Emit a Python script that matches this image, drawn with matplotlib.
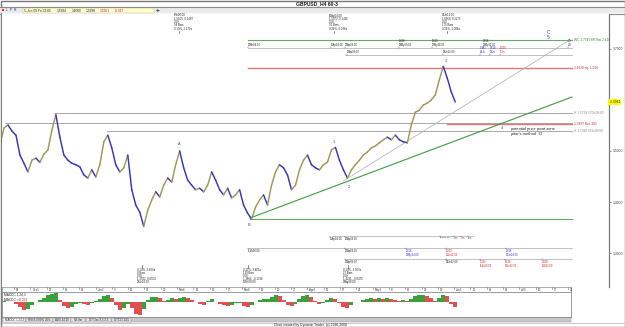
import matplotlib
matplotlib.use("Agg")
import matplotlib.pyplot as plt
from matplotlib.collections import LineCollection
from matplotlib.patches import Rectangle

plt.rcParams['font.family'] = ['Liberation Sans', 'DejaVu Sans']

# ---------------- data ----------------
week_labels = ["28", "Dec5", "12", "19", "26", "Jan2", "9", "16", "23", "30",
               "Feb6", "13", "20", "27", "Mar6", "13", "20", "27", "Apr3", "10",
               "17", "24", "May1", "8", "15", "22", "29", "Jun5", "12", "19",
               "26", "Jul3", "10", "17", "24"]

close_start_week = -0.86
close_step_weeks = 0.245
close = [1.512, 1.545, 1.551, 1.539, 1.531, 1.492, 1.476, 1.459, 1.482, 1.486,
         1.478, 1.494, 1.502, 1.541, 1.571, 1.527, 1.492, 1.482, 1.476, 1.473,
         1.469, 1.453, 1.447, 1.463, 1.449, 1.473, 1.518, 1.531, 1.506, 1.473,
         1.459, 1.467, 1.492, 1.424, 1.394, 1.380, 1.352, 1.384, 1.404, 1.420,
         1.410, 1.433, 1.447, 1.439, 1.473, 1.500, 1.467, 1.443, 1.433, 1.424,
         1.427, 1.420, 1.433, 1.459, 1.443, 1.424, 1.414, 1.427, 1.408, 1.414,
         1.424, 1.394, 1.378, 1.367, 1.390, 1.404, 1.414, 1.394, 1.433, 1.459,
         1.473, 1.467, 1.453, 1.424, 1.433, 1.463, 1.482, 1.492, 1.473, 1.467,
         1.463, 1.473, 1.478, 1.502, 1.507, 1.482, 1.463, 1.447, 1.463, 1.473,
         1.482, 1.492, 1.498, 1.506, 1.510, 1.516, 1.522, 1.527, 1.522, 1.531,
         1.522, 1.518, 1.516, 1.551, 1.576, 1.580, 1.590, 1.594, 1.600, 1.610,
         1.639, 1.666, 1.643, 1.616, 1.5961]

macd_hist = [0.002, 0.005, 0.002, -0.002, -0.009, -0.023, -0.037, -0.032, -0.014, 0.002,
             0.009, 0.018, 0.032, 0.037, 0.041, 0.009, -0.018, -0.028, -0.023, -0.009,
             -0.005, -0.009, -0.014, -0.005, 0.005, 0.014, 0.028, 0.032, 0.018, -0.014,
             -0.037, -0.028, -0.009, -0.028, -0.055, -0.060, -0.032, 0.009, 0.023, 0.023,
             0.018, 0.005, 0.009, 0.018, 0.014, 0.018, 0.023, 0.018, 0.009, 0.000,
             -0.009, -0.014, 0.005, 0.014, 0.000, -0.009, -0.014, -0.018, -0.014, -0.005,
             -0.005, -0.018, -0.023, -0.014, 0.000, 0.009, 0.014, 0.014, 0.023, 0.032,
             0.028, 0.009, -0.014, -0.018, -0.009, 0.014, 0.028, 0.032, 0.023, 0.005,
             -0.009, -0.005, 0.009, 0.018, 0.014, -0.005, -0.023, -0.028, -0.014, 0.000,
             0.002, 0.009, 0.014, 0.018, 0.014, 0.018, 0.014, 0.018, 0.014, 0.009,
             0.005, 0.007, 0.005, 0.014, 0.028, 0.032, 0.032, 0.028, 0.018, 0.005,
             0.018, 0.032, 0.028, -0.009, -0.023]

axis_ticks = [1.3, 1.4, 1.5, 1.7]
last_close = 1.5961

# support / resistance levels
level_prices = [1.5745, 1.5550, 1.5390, 1.6627, 1.5529, 1.7176, 1.3667]
level_starts = [2.45, -0.55, 5.70, 14.36, 26.56, 14.36, 14.48]
level_labels = ["H 1.5729 17Dc08:00", "", "H 1.5392 03Jn08:00", "1.6620 eq. 1.000",
                "1.5497 Ret .382", "WC 1.7549 ER Rat 2.618", ""]
level_kinds = ["gray", "gray", "gray", "red", "red", "green", "green"]

trend_green = ([14.48, 34.23], [1.3686, 1.6059])
trend_gray = ([20.20, 34.10], [1.4412, 1.7176])

wave_labels = ["A", "B", "1", "2", "3", "4", "C", "5"]
wave_weeks = [10.12, 14.42, 19.63, 20.55, 26.50, 29.94, 32.76, 32.76]
wave_prices = [1.5137, 1.3549, 1.5176, 1.4294, 1.6765, 1.5451, 1.7333, 1.7235]

# ---------------- layout helpers ----------------
W, H = 625, 327
PX_PER_WEEK = 16.3
WEEK0_PX = 14.0


def rect(x0, y0, x1, y1):
    return [x0 / W, 1 - y1 / H, (x1 - x0) / W, (y1 - y0) / H]


def wk(px):
    return (px - WEEK0_PX) / PX_PER_WEEK


def yprice(py):
    return 1.7 - (py - 49.0) / 510.0


fig = plt.figure(figsize=(W / 100, H / 100), dpi=100)
fig.patch.set_facecolor('white')

bg = fig.add_axes([0, 0, 1, 1], zorder=0)
bg.set_xlim(0, W)
bg.set_ylim(H, 0)
bg.axis('off')

bg.add_patch(Rectangle((0.5, 0.5), W - 1, H - 1, fill=False, ec='#7a7a7a', lw=1.0))
bg.text(317, 3.9, "GBPUSD_H4 60-3", ha='center', va='center', fontsize=3.6,
        fontweight='bold', color='#1a1a1a')
bg.plot([0, W], [7.2, 7.2], color='#8c8c8c', lw=0.8)
bg.add_patch(Rectangle((1, 7.6), W - 2, 5.6, fc='#ebebeb', ec='none'))
bg.plot([0, W], [13.6, 13.6], color='#8c8c8c', lw=0.8)
# toolbar
bg.add_patch(Rectangle((1.8, 9.0), 2.2, 2.4, fc='#d03030', ec='none'))
for xx, ch in [(6.5, "L"), (10.5, "P"), (14.5, "R")]:
    bg.text(xx, 10.3, ch, fontsize=2.4, color='#303090', ha='center', va='center')
bg.add_patch(Rectangle((22.5, 8.2), 131, 4.6, fc='#ffffd0', ec='#b8b890', lw=0.3))
tool_items = [(24, "5-Jun-09 Fri 23:00", '#202020'), (57, "1.5994", '#202020'),
              (72, "1.6000", '#202020'), (86, "1.5938", '#202020'),
              (100, "1.5961", '#d02020'), (115, "-0.037", '#d02020')]
for xx, t, c in tool_items:
    bg.text(xx, 10.5, t, fontsize=2.3, color=c, ha='left', va='center')
bg.text(158, 10.3, "+", fontsize=4.5, fontweight='bold', color='#202020',
        ha='center', va='center')

# ---------------- price panel ----------------
ax = fig.add_axes(rect(2, 14, 609, 287), zorder=1)
ax.set_xlim(wk(2), wk(609))
ax.set_ylim(yprice(287), yprice(14))
ax.set_facecolor('white')
for s in ['top', 'left', 'bottom']:
    ax.spines[s].set_visible(False)
ax.spines['right'].set_color('#7a7a7a')
ax.spines['right'].set_linewidth(0.9)
ax.yaxis.tick_right()
ax.set_yticks(axis_ticks)
ax.set_yticklabels([f"{v:.4f}" for v in axis_ticks])
ax.tick_params(axis='y', length=1.5, width=0.4, pad=1.0, labelsize=2.4,
               colors='#333333')
ax.set_xticks([])
ax.text(1.0, last_close, f" {last_close:.4f}", transform=ax.get_yaxis_transform(),
        fontsize=2.4, va='center', ha='left', color='#202020',
        bbox=dict(boxstyle='square,pad=0.25', fc='#ffff00', ec='none'))

level_colors = {"gray": ('#a8a8a8', 0.7, '#8a8a8a'), "red": ('#e07878', 1.0, '#d02828'),
                "green": ('#6aa86a', 0.8, '#2f8a2f')}
x_end = wk(572)
for p, s, lab, k in zip(level_prices, level_starts, level_labels, level_kinds):
    lc, lw, tc = level_colors[k]
    ax.plot([s, x_end], [p, p], color=lc, lw=lw, zorder=2)
    if lab:
        ax.text(wk(574), p, lab, fontsize=2.3, color=tc, va='center', ha='left')

ax.plot(trend_green[0], trend_green[1], color='#3f9a3f', lw=0.8, zorder=2)
ax.plot(trend_gray[0], trend_gray[1], color='#b8b8b8', lw=0.6, zorder=2)

xs = [close_start_week + i * close_step_weeks for i in range(len(close))]
segs = [[(xs[i - 1], close[i - 1]), (xs[i], close[i])] for i in range(1, len(close))]
cols = ['#9a9a55' if close[i] >= close[i - 1] else '#3535c0' for i in range(1, len(close))]
ax.add_collection(LineCollection(segs, colors=cols, linewidths=1.05, capstyle='round',
                                 zorder=3))

for t, xw, yp in zip(wave_labels, wave_weeks, wave_prices):
    big = t in ("C", "5")
    ax.text(xw, yp, t, fontsize=3.4 if big else 2.8, color='#3a3ab0',
            ha='center', va='center', zorder=4)

# ---------------- date strip ----------------
axd = fig.add_axes(rect(2, 287, 571, 292), zorder=1)
axd.set_xlim(wk(2), wk(571))
axd.set_ylim(0, 1)
axd.set_xticks([])
axd.set_yticks([])
for s in axd.spines.values():
    s.set_color('#8a8a8a')
    s.set_linewidth(0.5)
for i, lab in enumerate(week_labels):
    axd.plot([i, i], [1.0, 0.55], color='#606060', lw=0.4)
    axd.text(i + 0.12, 0.35, lab, fontsize=2.1, color='#303030', ha='left', va='center')

# ---------------- MACD panel ----------------
axm = fig.add_axes(rect(2, 292, 571, 317), zorder=1)
axm.set_xlim(wk(2), wk(571))
axm.set_ylim(-0.069, 0.046)
axm.set_xticks([])
axm.set_yticks([])
for s in axm.spines.values():
    s.set_color('#8a8a8a')
    s.set_linewidth(0.6)
mx = [close_start_week + i * close_step_weeks for i in range(len(macd_hist))]
mcols = ['#3aa03a' if (i > 0 and macd_hist[i] >= macd_hist[i - 1]) else '#e05050'
         for i in range(len(macd_hist))]
axm.bar(mx, macd_hist, width=close_step_weeks, color=mcols, linewidth=0)
axm.text(0.004, 0.88, "MACDC 1,24,3", transform=axm.transAxes, fontsize=2.3,
         color='#202020', va='center')
axm.text(0.004, 0.68, "MACDC =", transform=axm.transAxes, fontsize=2.3,
         color='#202020', va='center')
axm.text(0.030, 0.68, "-0.023", transform=axm.transAxes, fontsize=2.3,
         color='#d02020', va='center')

# ---------------- tab strip & footer ----------------
bg.add_patch(Rectangle((2, 317.3), 569, 4.6, fc='#c8c8c8', ec='#909090', lw=0.3))
tabs = ["MACDC 1,24,3", "RSI 8,0 89% 20%", "ADX 14,20", "Vol.Var", "DT Osc 8,5,3,3",
        "DTCCI 14,5"]
tx = 3
for j, t in enumerate(tabs):
    wdt = 3 + 1.6 * len(t)
    bg.add_patch(Rectangle((tx, 317.8), wdt, 3.8, fc='white' if j == 0 else '#e4e4e4',
                           ec='#808080', lw=0.3))
    bg.text(tx + wdt / 2, 319.8, t, fontsize=2.1, ha='center', va='center', color='#202020')
    tx += wdt + 0.5
bg.plot([0, W], [322.5, 322.5], color='#a0a0a0', lw=0.4)
bg.text(310, 324.6, "Chart created by Dynamic Trader  (c) 1996-2008", fontsize=2.4,
        ha='center', va='center', color='#202020')

# ---------------- annotations (pixel coordinates) ----------------
ov = fig.add_axes([0, 0, 1, 1], zorder=3)
ov.set_xlim(0, W)
ov.set_ylim(H, 0)
ov.axis('off')
ov.patch.set_alpha(0)

ann_fs = 2.0
top_blocks = [(174, ["9Fb08:00", "1.5005, 0.1487", "0.00", "58 Bars", "0.19%, 2.179a"]),
              (329, ["16Ap04:00", "1.5072, 0.1426", "0.00", "55 Bars", "0.24%, 0.036a"]),
              (442, ["03Jn12:00", "1.6660, 0.2273", "0.00", "175 Bars", "0.28%, 1.086a"])]
for x0, lines in top_blocks:
    for k, t in enumerate(lines):
        ov.text(x0, 15.5 + k * 3.2, t, fontsize=ann_fs, color='#202020', va='center')
    ov.plot([x0 + 5, x0 + 5], [30.5, 33], color='#202020', lw=0.4)

bottom_blocks = [(137, ["0.14%, 3.800a", "0 Bars", "0.00", "1.3502, 0.0500", "23Jn08:00"]),
                 (243, ["0.11%, 3.880a", "129 Bars", "0.00", "1.3664, -0.1338", "11Mr08:00"]),
                 (343, ["0.14%, 2.563a", "27 Bars", "0.00", "1.4281, -0.0479", "22Ap08:00"])]
for x0, lines in bottom_blocks:
    ov.plot([x0 + 5, x0 + 5], [265, 267.5], color='#202020', lw=0.4)
    for k, t in enumerate(lines):
        ov.text(x0, 269.5 + k * 3.1, t, fontsize=ann_fs, color='#202020', va='center')

# time projection lines
tlines = [(48, 248, 572), (55, 345, 572), (236, 332, 474), (248, 248, 572), (259, 345, 572)]
for yy, xa, xb in tlines:
    ov.plot([xa, xb], [yy, yy], color='#a8a8a8', lw=0.5)

above = [
    (248, 48, "22Mr04:00", '#202020', 1.9), (331, 48, "16Ap04:00", '#202020', 1.9),
    (345, 48, "22Ap08:00", '#202020', 1.9), (399, 48, "1.618\n09My20:00", '#202020', 1.9),
    (432, 48, "1.000\n20My16:00", '#202020', 1.9), (483, 48, "1.618\n29My12:00", '#202020', 1.9),
    (568, 48, "0.5\n2.0", '#202020', 1.9),
    (347, 55, "22Ap08:00", '#202020', 1.9), (443, 55, "03Jn12:00", '#202020', 1.9),
    (480, 55, "0.382\n04Jn", '#3030c0', 1.9), (490, 55, "0.618\n08Jn", '#3030c0', 1.9),
    (500, 55, "1.000\n11Jn", '#d02020', 1.9),
]
below = [
    (330, 236, "16Ap04:00", '#202020', 1.9), (345, 236, "22Ap08:00", '#202020', 1.9),
    (440, 236, "03Jn12:00", '#202020', 1.6), (454, 236, ".382\n04Jn", '#3030c0', 1.5),
    (461, 236, ".618\n05Jn", '#d02020', 1.5), (468, 236, "1.00\n08Jn", '#3030c0', 1.5),
    (248, 248, "11Mr08:00", '#202020', 1.9), (345, 248, "22Ap08:00", '#202020', 1.9),
    (406, 248, "1.618\n28My04:00", '#3030c0', 1.9), (446, 248, "1.000\n05Jn12:00", '#d02020', 1.9),
    (506, 248, "1.618\n30Jn04:00", '#3030c0', 1.9),
    (345, 259, "22Ap08:00", '#202020', 1.9), (446, 259, "03Jn12:00", '#202020', 1.9),
    (480, 259, "1.382\n15Jn20:00", '#d02020', 1.9), (505, 259, "1.618\n26Jn12:00", '#d02020', 1.9),
    (542, 259, "2.000\n13Jl12:00", '#d02020', 1.9),
]
for xx, yy, t, c, fs in above:
    ov.plot([xx, xx], [yy, yy - 1.3], color='#404040', lw=0.35)
    ov.text(xx, yy - 1.1, t, fontsize=fs, color=c, va='bottom', ha='left', linespacing=0.9)
for xx, yy, t, c, fs in below:
    ov.plot([xx, xx], [yy, yy + 1.3], color='#404040', lw=0.35)
    ov.text(xx, yy + 1.0, t, fontsize=fs, color=c, va='top', ha='left', linespacing=0.9)

ov.text(511, 129, "potential price pivot zone", fontsize=2.9, color='#202020', va='center')
ov.text(511, 134.5, "pitar's method  :D", fontsize=2.9, color='#202020', va='center')

fig.savefig("out.png", dpi=100)
